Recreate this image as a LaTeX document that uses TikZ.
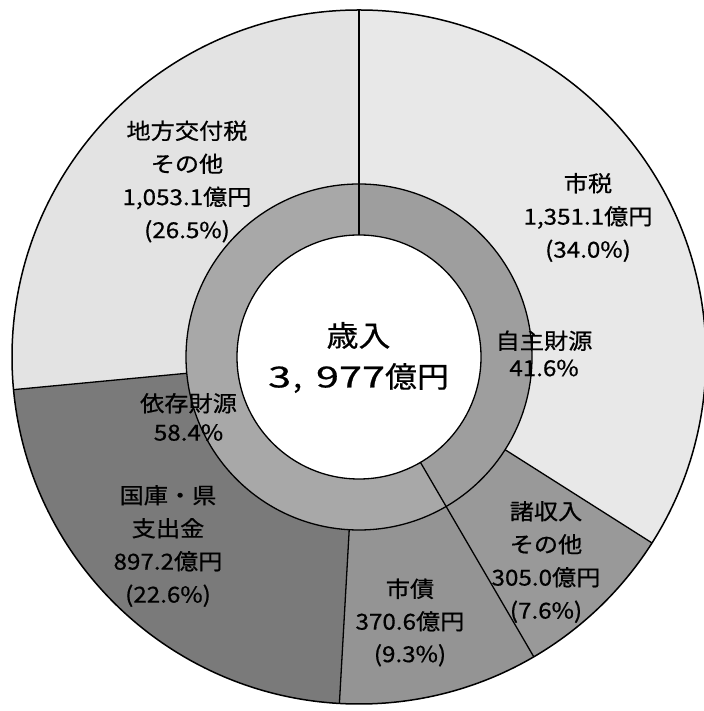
\documentclass[tikz,border=0pt]{standalone}
\usepackage{graphicx}
\usepackage{fontspec}
\newfontfamily\jp[FakeStretch=1.1,FakeBold=0.6]{Noto Sans CJK JP}
\newcommand\annsec[5]{\fill[#1, shift={(C)}] (#2:#4pt) -- (#2:#5pt) arc[start angle=#2, end angle=#3, radius=#5pt] -- (#3:#4pt) arc[start angle=#3, end angle=#2, radius=#4pt] -- cycle;}
\begin{document}
\begin{tikzpicture}[x=1pt,y=1pt,
  lbl/.style={font=\jp\fontsize{22}{33}\selectfont, align=center, inner sep=0pt},
  rim/.style={draw=black, line width=1.5pt},
  divider/.style={draw=black, line width=1.3pt}]
\useasboundingbox (0,0) rectangle (703,711);
\fill[white] (0,0) rectangle (703,711);
\coordinate (C) at (359,354);
% outer ring segments (clockwise from top)
\annsec{black!9}{90}{-32.4}{173}{347}      % 市税
\annsec{black!40}{-32.4}{-59.76}{173}{347}  % 諸収入
\annsec{black!42}{-59.76}{-93.24}{173}{347} % 市債
\annsec{black!52}{-93.24}{-174.6}{173}{347} % 国庫・県
\annsec{black!11}{185.4}{90}{173}{347}      % 地方交付税
% inner ring
\annsec{black!38}{90}{-59.76}{122}{173}     % 自主財源
\annsec{black!34}{-59.76}{-270}{122}{173}   % 依存財源
% circles
\draw[rim] (C) circle[radius=347pt];
\draw[divider] (C) circle[radius=173pt];
\fill[white] (C) circle[radius=122pt];
\draw[divider] (C) circle[radius=122pt];
% dividers
\path (C) ++(90:122pt) coordinate (t1) (C) ++(90:347pt) coordinate (t2);
\path (C) ++(-32.4:173pt) coordinate (a1) (C) ++(-32.4:347pt) coordinate (a2);
\path (C) ++(-59.76:122pt) coordinate (b1) (C) ++(-59.76:347pt) coordinate (b2);
\path (C) ++(-93.24:173pt) coordinate (c1) (C) ++(-93.24:347pt) coordinate (c2);
\path (C) ++(185.4:173pt) coordinate (d1) (C) ++(185.4:347pt) coordinate (d2);
\draw[divider] (t1) -- (t2);
\draw[divider] (a1) -- (a2);
\draw[divider] (b1) -- (b2);
\draw[divider] (c1) -- (c2);
\draw[divider] (d1) -- (d2);
% labels
\node[font=\jp\fontsize{29}{41}\selectfont, align=center, inner sep=0pt] (total) at (358.5,353.5)
  {歳入\\\scalebox{1.3}[1]{3}\hspace{2pt},\hspace{14pt}\scalebox{1.3}[1]{977}億円};
\node[lbl] (chiho) at (187,529.5) {地方交付税\\その他\\1,053.1億円\\(26.5\%)};
\node[lbl] (shizei) at (588,493.5) {市税\\1,351.1億円\\(34.0\%)};
\node[lbl, font=\jp\fontsize{22}{27}\selectfont] (jishu) at (544,357.5) {自主財源\\41.6\%};
\node[lbl, font=\jp\fontsize{22}{29}\selectfont] (izon) at (188.5,294) {依存財源\\58.4\%};
\node[lbl] (kokko) at (168,165) {国庫・県\\支出金\\897.2億円\\(22.6\%)};
\node[lbl, font=\jp\fontsize{22}{32.5}\selectfont] (shisai) at (410,88.5) {市債\\370.6億円\\(9.3\%)};
\node[lbl] (shoshu) at (546,149) {諸収入\\その他\\305.0億円\\(7.6\%)};
\end{tikzpicture}
\end{document}
